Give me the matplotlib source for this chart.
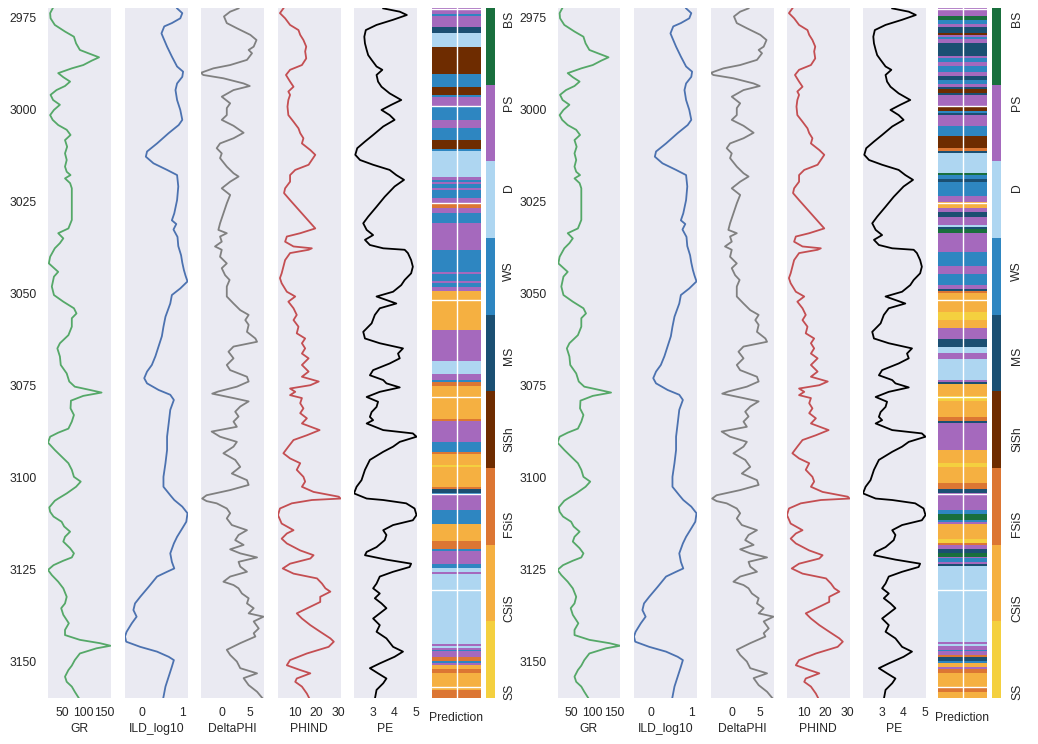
import numpy as np
import matplotlib
matplotlib.use('Agg')
import matplotlib.pyplot as plt
from matplotlib import colors

plt.rcParams.update({
    'font.family': 'sans-serif',
    'font.sans-serif': ['Liberation Sans', 'DejaVu Sans'],
    'font.size': 8.7,
    'axes.facecolor': '#EAEAF2',
    'axes.edgecolor': 'white',
    'axes.grid': True,
    'grid.color': 'white',
    'grid.linewidth': 1.0,
    'xtick.major.size': 0,
    'ytick.major.size': 0,
    'xtick.color': '.15',
    'ytick.color': '.15',
    'axes.labelcolor': '.15',
    'text.color': '.15',
})

facies_colors = ['#F4D03F', '#F5B041', '#DC7633', '#6E2C00', '#1B4F72',
                 '#2E86C1', '#AED6F1', '#A569BD', '#196F3D']
facies_labels = ['SS', 'CSiS', 'FSiS', 'SiSh', 'MS', 'WS', 'D', 'PS', 'BS']

ZTOP, ZBOT = 2972.3, 3159.8

gr_depth = [2972.4, 2973.7, 2975.1, 2976.9, 2978.7, 2980.1, 2981.9, 2983.7, 2984.6, 2985.7,
            2986.6, 2987.8, 2988.7, 2990.0, 2991.1, 2992.3, 2993.5, 2994.6, 2995.9, 2997.3,
            2998.6, 3000.0, 3001.4, 3002.7, 3004.1, 3005.4, 3006.8, 3008.2, 3010.0, 3011.8,
            3013.6, 3015.4, 3016.8, 3017.7, 3018.6, 3019.9, 3021.3, 3026.3, 3029.9, 3032.2,
            3033.5, 3034.9, 3036.2, 3037.6, 3039.9, 3041.7, 3044.0, 3045.3, 3048.0, 3050.3,
            3052.1, 3053.9, 3055.3, 3056.6, 3058.9, 3061.2, 3063.4, 3064.8, 3067.0, 3069.3,
            3071.6, 3073.8, 3075.2, 3076.1, 3076.8, 3077.7, 3079.0, 3081.1, 3082.9, 3084.7,
            3086.6, 3087.7, 3088.8, 3090.4, 3092.4, 3094.2, 3096.0, 3097.8, 3099.7, 3101.0,
            3102.4, 3104.2, 3105.6, 3106.2, 3108.0, 3109.2, 3110.5, 3111.9, 3113.2, 3114.6,
            3116.0, 3117.3, 3119.1, 3120.5, 3121.6, 3122.5, 3123.7, 3125.0, 3126.4, 3128.2,
            3130.0, 3132.3, 3134.1, 3135.4, 3137.2, 3139.5, 3141.3, 3142.7, 3144.0, 3144.9,
            3145.6, 3146.3, 3147.7, 3149.5, 3151.0, 3152.2, 3154.0, 3155.4, 3156.7, 3158.1,
            3160.1]
gr = [28, 22, 23, 33, 57, 78, 83, 92, 112, 137,
      120, 100, 73, 41, 53, 69, 57, 37, 23, 29,
      45, 31, 22, 28, 41, 61, 70, 57, 62, 57,
      61, 57, 61, 70, 57, 69, 73, 73, 73, 65,
      41, 53, 45, 33, 22, 19, 41, 31, 26, 31,
      53, 78, 84, 73, 73, 65, 45, 39, 45, 47,
      61, 67, 80, 116, 143, 100, 71, 70, 78, 73,
      65, 41, 22, 17, 33, 49, 65, 73, 78, 94,
      83, 61, 41, 33, 20, 22, 30, 49, 55, 69,
      57, 53, 69, 78, 73, 53, 30, 17, 26, 41,
      53, 61, 57, 48, 53, 66, 57, 57, 92, 139,
      164, 131, 92, 80, 73, 65, 57, 61, 73, 80,
      91]

ild_depth = [2972.4, 2973.7, 2975.1, 2976.4, 2977.3, 2979.2, 2980.5, 2982.8, 2985.5, 2988.2,
             2989.6, 2991.0, 2992.8, 2994.6, 2997.3, 3000.0, 3002.7, 3004.1, 3006.3, 3009.1,
             3011.3, 3012.7, 3014.5, 3016.3, 3017.7, 3020.8, 3024.5, 3028.1, 3030.0, 3031.0,
             3032.5, 3034.5, 3037.0, 3039.5, 3041.5, 3043.5, 3045.0, 3046.6, 3048.5, 3050.3,
             3052.6, 3056.2, 3058.9, 3061.5, 3064.2, 3066.9, 3069.3, 3071.1, 3072.9, 3074.3,
             3076.1, 3077.4, 3078.8, 3081.5, 3085.2, 3088.8, 3092.4, 3096.0, 3099.7, 3102.4,
             3104.7, 3106.0, 3107.8, 3109.6, 3111.9, 3113.7, 3116.0, 3117.8, 3120.5, 3122.8,
             3124.6, 3125.5, 3126.8, 3129.6, 3132.3, 3134.1, 3135.9, 3137.7, 3139.5, 3141.8,
             3143.1, 3144.5, 3145.9, 3147.2, 3148.6, 3149.5, 3151.3, 3154.0, 3156.7, 3160.1]
ild = [0.87, 1.00, 0.95, 0.74, 0.55, 0.48, 0.53, 0.62, 0.74, 0.87,
       1.02, 1.00, 0.87, 0.83, 0.87, 0.95, 1.00, 0.91, 0.66, 0.37,
       0.12, 0.09, 0.28, 0.62, 0.87, 0.90, 0.87, 0.80, 0.74, 0.85,
       0.78, 0.88, 0.90, 0.97, 1.00, 1.04, 1.08, 1.13, 0.95, 0.74,
       0.70, 0.58, 0.53, 0.49, 0.41, 0.33, 0.24, 0.12, 0.05, 0.12,
       0.41, 0.70, 0.79, 0.70, 0.66, 0.62, 0.62, 0.58, 0.53, 0.53,
       0.70, 0.80, 1.00, 1.13, 1.10, 1.00, 0.87, 0.79, 0.70, 0.74,
       0.80, 0.62, 0.37, 0.16, -0.05, -0.18, -0.22, -0.14, -0.26, -0.39,
       -0.43, -0.40, -0.05, 0.37, 0.66, 0.79, 0.74, 0.66, 0.58, 0.52]

dphi_depth = [2972.4, 2973.3, 2974.6, 2976.4, 2977.8, 2979.6, 2981.0, 2982.8, 2983.7, 2984.6,
              2986.4, 2987.8, 2988.7, 2989.9, 2990.5, 2991.4, 2992.8, 2993.5, 2994.6, 2996.4,
              2998.2, 2999.5, 3001.4, 3002.7, 3004.3, 3006.2, 3007.7, 3009.1, 3010.4, 3011.8,
              3013.1, 3015.4, 3017.2, 3018.1, 3019.5, 3021.3, 3023.1, 3025.4, 3028.1, 3030.8,
              3032.6, 3033.5, 3034.4, 3035.8, 3037.1, 3038.0, 3039.9, 3041.7, 3043.0, 3044.9,
              3046.2, 3048.0, 3050.7, 3052.6, 3054.4, 3055.7, 3057.1, 3058.4, 3060.3, 3062.1,
              3063.0, 3064.3, 3065.7, 3067.5, 3069.3, 3070.7, 3072.5, 3073.8, 3075.2, 3076.5,
              3077.1, 3078.3, 3079.2, 3080.6, 3082.0, 3083.3, 3084.7, 3086.1, 3087.4, 3088.8,
              3090.2, 3091.5, 3093.3, 3095.1, 3097.0, 3098.8, 3100.6, 3101.9, 3103.3, 3104.7,
              3105.6, 3106.3, 3106.9, 3108.3, 3109.6, 3111.0, 3112.8, 3114.2, 3115.5, 3116.9,
              3118.2, 3119.4, 3120.5, 3121.6, 3122.8, 3124.1, 3125.5, 3126.8, 3128.2, 3129.1,
              3130.0, 3131.4, 3132.7, 3134.1, 3135.4, 3136.8, 3137.7, 3139.0, 3140.9, 3142.2,
              3143.1, 3144.9, 3146.7, 3148.1, 3149.9, 3151.7, 3153.1, 3154.4, 3156.3, 3158.1,
              3160.1]
dphi = [2.9, 1.4, 0.3, 0.8, 2.6, 5.0, 6.1, 5.6, 4.7, 5.3,
        4.4, 1.4, -1.6, -3.8, -3.4, 0.2, 3.8, 4.9, 2.0, -0.1,
        1.4, 0.8, 0.8, -0.1, 2.0, 3.8, 2.0, -0.4, -1.0, -0.1,
        -0.4, 0.8, 2.0, 2.9, 1.4, -0.1, 1.4, 0.8, 0.2, -0.4,
        -0.7, 0.8, -0.4, -0.1, -1.3, -0.1, -0.4, 0.8, -0.1, 0.5,
        1.3, 0.8, 0.8, 2.0, 3.2, 4.7, 4.1, 4.7, 4.4, 5.9,
        6.2, 2.0, 1.1, 2.0, 0.8, 1.4, 4.4, 4.7, 2.6, -0.7,
        -1.8, 2.0, 4.7, 3.2, 2.3, 2.9, 2.0, 2.6, -1.9, -0.4,
        2.6, 2.0, 0.2, 2.3, 3.2, 1.7, 4.4, 4.7, 1.4, -2.8,
        -3.6, -2.8, -1.0, 0.8, 1.4, 0.8, 1.7, 4.4, 2.9, 2.3,
        3.8, 1.4, 3.2, 6.2, 2.9, 3.2, 4.4, 1.4, 0.2, 2.0,
        2.9, 3.5, 4.7, 4.4, 5.6, 4.7, 7.35, 5.6, 6.5, 5.6,
        5.9, 3.2, 0.8, 1.4, 2.6, 3.2, 6.2, 3.8, 4.7, 6.2,
        7.3]

phind_depth = [2972.4, 2973.7, 2975.1, 2976.9, 2978.3, 2979.6, 2981.0, 2982.8, 2984.1, 2986.0,
               2987.8, 2989.1, 2990.5, 2992.3, 2993.7, 2995.0, 2995.9, 2997.3, 2999.1, 3001.4,
               3003.2, 3005.0, 3006.3, 3007.7, 3009.1, 3010.9, 3012.2, 3013.6, 3014.9, 3016.3,
               3017.7, 3019.5, 3021.3, 3022.6, 3024.5, 3028.1, 3032.2, 3033.5, 3034.4, 3035.8,
               3037.1, 3037.6, 3038.0, 3038.9, 3040.8, 3042.6, 3044.4, 3045.7, 3047.1, 3049.4,
               3050.7, 3052.1, 3053.9, 3055.7, 3057.1, 3058.9, 3060.7, 3062.1, 3063.4, 3064.8,
               3066.2, 3067.5, 3069.3, 3071.1, 3072.5, 3073.8, 3074.8, 3075.7, 3076.6, 3077.5,
               3078.3, 3079.7, 3081.1, 3082.4, 3083.8, 3085.2, 3087.0, 3088.4, 3089.7, 3091.5,
               3093.3, 3094.7, 3096.0, 3097.8, 3099.7, 3101.0, 3102.4, 3103.8, 3105.1, 3105.6,
               3106.0, 3106.9, 3108.3, 3110.1, 3112.4, 3114.2, 3115.1, 3116.5, 3117.8, 3119.7,
               3121.0, 3121.9, 3123.3, 3124.6, 3126.0, 3127.3, 3128.7, 3130.0, 3130.9, 3132.3,
               3133.7, 3135.0, 3136.8, 3138.2, 3140.0, 3141.8, 3143.6, 3144.5, 3145.9, 3147.7,
               3149.5, 3150.9, 3152.2, 3153.1, 3154.5, 3155.4, 3156.7, 3158.6, 3160.1]
phind = [4.7, 3.1, 5.5, 7.8, 11.7, 12.5, 14.0, 15.3, 14.8, 15.3,
         13.3, 7.8, 5.9, 7.8, 9.4, 7.0, 7.8, 7.0, 6.6, 7.0,
         9.4, 11.7, 12.5, 14.0, 13.3, 17.2, 19.5, 17.9, 16.4, 10.2,
         7.8, 7.8, 5.5, 5.0, 7.8, 13.3, 19.5, 12.5, 6.3, 5.5,
         9.4, 17.9, 16.4, 7.8, 5.5, 4.7, 3.9, 3.1, 3.9, 6.3,
         10.2, 7.0, 9.4, 10.9, 9.4, 11.7, 10.9, 14.8, 13.3, 14.8,
         13.3, 16.4, 13.3, 16.4, 13.3, 21.1, 17.2, 7.8, 10.2, 7.8,
         13.3, 12.5, 14.0, 12.5, 15.6, 13.3, 21.5, 15.6, 9.4, 7.0,
         4.7, 7.8, 12.5, 10.9, 14.0, 14.8, 13.3, 18.7, 30.4, 31.2,
         17.9, 8.6, 3.1, 2.2, 3.9, 9.4, 6.3, 3.9, 6.3, 12.5,
         18.7, 17.2, 7.8, 4.4, 9.4, 20.3, 22.6, 24.2, 26.5, 21.8,
         21.8, 17.2, 10.9, 13.3, 17.2, 21.8, 26.5, 28.1, 25.7, 15.6,
         7.8, 6.3, 12.5, 17.2, 10.9, 10.2, 13.3, 15.6, 16.9]

pe_depth = [2972.4, 2973.3, 2974.2, 2975.5, 2976.9, 2978.3, 2980.1, 2981.9, 2983.7, 2985.1,
            2986.4, 2988.2, 2989.1, 2990.5, 2992.3, 2993.7, 2995.5, 2997.3, 2998.6, 3000.0,
            3001.4, 3002.7, 3004.5, 3006.8, 3008.6, 3010.4, 3012.2, 3013.6, 3014.9, 3016.3,
            3017.7, 3019.0, 3020.8, 3023.6, 3026.3, 3029.0, 3030.8, 3032.6, 3034.0, 3035.3,
            3036.7, 3037.6, 3038.0, 3038.9, 3040.8, 3042.6, 3044.4, 3046.2, 3047.6, 3049.4,
            3050.7, 3052.6, 3053.9, 3055.7, 3058.0, 3060.3, 3062.1, 3063.4, 3064.8, 3066.2,
            3067.5, 3068.9, 3070.7, 3072.1, 3073.4, 3074.3, 3075.4, 3076.6, 3078.0, 3079.3,
            3080.7, 3082.1, 3083.4, 3084.3, 3085.2, 3087.0, 3087.9, 3088.8, 3090.2, 3091.5,
            3092.9, 3095.1, 3097.8, 3100.6, 3102.4, 3104.2, 3105.6, 3106.0, 3106.9, 3108.3,
            3110.1, 3111.5, 3112.8, 3114.2, 3115.5, 3116.9, 3118.8, 3120.1, 3121.0, 3122.2,
            3123.3, 3124.2, 3125.5, 3126.8, 3128.7, 3130.0, 3131.4, 3132.7, 3134.1, 3135.4,
            3136.8, 3138.2, 3140.0, 3141.8, 3143.6, 3145.9, 3147.2, 3148.6, 3150.4, 3151.7,
            3153.1, 3154.5, 3155.8, 3157.6, 3160.1]
pe = [3.50, 4.27, 4.60, 3.96, 3.19, 2.69, 2.62, 2.65, 2.73, 2.80,
      2.96, 3.19, 3.46, 3.19, 3.26, 3.42, 3.80, 4.34, 3.88, 3.42,
      3.80, 4.03, 3.50, 3.03, 2.65, 2.29, 2.20, 2.42, 3.03, 3.80,
      4.11, 4.47, 4.03, 3.57, 3.19, 2.80, 2.57, 2.73, 3.03, 2.65,
      2.88, 3.50, 4.50, 4.65, 4.80, 4.88, 4.80, 4.50, 4.34, 3.96,
      3.19, 4.11, 3.34, 3.11, 2.96, 2.57, 2.65, 3.34, 4.42, 4.19,
      4.27, 3.80, 3.03, 2.88, 3.50, 3.65, 4.27, 3.34, 2.73, 3.26,
      3.19, 2.96, 2.88, 3.03, 2.73, 3.50, 4.88, 5.05, 4.27, 3.96,
      3.50, 2.88, 2.65, 2.49, 2.26, 2.14, 2.73, 3.50, 4.57, 4.96,
      5.05, 4.88, 3.96, 3.50, 3.65, 3.57, 3.19, 2.73, 2.65, 3.65,
      4.80, 4.73, 3.96, 3.34, 3.19, 3.03, 3.34, 3.11, 3.42, 3.65,
      3.34, 3.03, 3.34, 3.19, 3.65, 3.96, 4.42, 4.03, 3.34, 2.88,
      3.26, 3.65, 3.50, 3.19, 3.11]

# predicted facies, as interval tops (depth) and facies codes 1..9
pred_left_tops = [2972.3, 2973.7, 2974.2, 2977.5, 2979.2, 2982.8, 2990.0, 2993.8, 2995.9, 2996.6,
                  2999.0, 3002.7, 3005.0, 3008.2, 3010.7, 3011.3, 3018.1, 3019.0, 3019.7, 3020.4,
                  3021.3, 3021.9, 3024.0, 3025.6, 3026.7, 3028.1, 3030.8, 3038.0, 3043.9, 3044.6,
                  3046.6, 3047.3, 3048.2, 3049.4, 3059.8, 3068.4, 3072.0, 3073.2, 3074.1, 3075.2,
                  3083.8, 3084.4, 3090.4, 3092.8, 3093.4, 3096.4, 3097.3, 3102.5, 3103.0, 3103.9,
                  3104.6, 3108.5, 3112.5, 3117.3, 3119.1, 3120.0, 3123.6, 3124.3, 3125.6, 3126.2,
                  3144.9, 3145.4, 3146.0, 3146.6, 3147.2, 3149.0, 3149.7, 3150.3, 3151.0, 3151.7,
                  3153.2, 3157.6, 3158.5, 3159.0]
pred_left = [8, 6, 8, 5, 7, 4, 6, 4, 6, 8,
             6, 8, 6, 4, 6, 7, 8, 6, 8, 6,
             8, 6, 8, 3, 8, 6, 8, 6, 8, 6,
             8, 6, 8, 2, 8, 7, 8, 6, 3, 2,
             3, 8, 6, 3, 2, 1, 2, 3, 5, 6,
             8, 6, 2, 3, 6, 8, 6, 7, 8, 7,
             8, 7, 8, 6, 8, 3, 6, 8, 2, 3,
             2, 3, 2, 3]

pred_right_tops = [2972.3, 2974.6, 2975.2, 2976.4, 2977.8, 2979.2, 2979.6, 2980.3, 2980.8, 2981.7,
                   2985.3, 2986.0, 2986.9, 2987.3, 2988.2, 2989.6, 2990.5, 2991.7, 2992.8, 2993.8,
                   2994.6, 2995.3, 2995.9, 2999.3, 3000.0, 3000.6, 3001.4, 3004.5, 3007.2, 3010.0,
                   3011.1, 3011.8, 3017.2, 3017.8, 3018.8, 3019.5, 3023.6, 3025.1, 3026.3, 3027.6,
                   3029.4, 3031.3, 3031.9, 3032.4, 3033.2, 3038.9, 3042.1, 3044.5, 3047.6, 3048.5,
                   3049.4, 3049.9, 3054.8, 3057.1, 3059.1, 3062.1, 3064.3, 3066.0, 3067.5, 3073.4,
                   3073.8, 3074.5, 3077.9, 3079.3, 3083.3, 3084.3, 3085.0, 3092.4, 3096.0, 3096.9,
                   3101.4, 3103.1, 3104.0, 3108.5, 3110.0, 3111.2, 3111.8, 3112.5, 3116.8, 3117.5,
                   3118.2, 3119.1, 3119.5, 3120.4, 3121.2, 3122.1, 3122.7, 3123.3, 3123.9, 3144.5,
                   3145.1, 3145.8, 3146.7, 3147.4, 3148.3, 3148.9, 3149.6, 3150.3, 3151.2, 3152.1,
                   3153.0, 3157.1, 3158.3]
pred_right = [8, 9, 6, 8, 5, 4, 8, 6, 8, 5,
              8, 6, 4, 8, 6, 8, 5, 6, 8, 5,
              4, 5, 8, 4, 6, 5, 8, 6, 4, 3,
              5, 7, 9, 6, 5, 6, 8, 2, 8, 5,
              8, 7, 5, 9, 8, 6, 8, 6, 8, 5,
              3, 2, 1, 2, 8, 5, 7, 8, 7, 8,
              5, 2, 1, 2, 3, 5, 8, 2, 1, 2,
              3, 5, 8, 6, 9, 6, 8, 2, 1, 3,
              8, 6, 5, 9, 8, 6, 8, 5, 7, 8,
              7, 8, 6, 8, 3, 5, 6, 2, 8, 3,
              2, 3, 2]

logs = [
    (gr_depth, gr, '#55A868', 'GR', [50, 100, 150]),
    (ild_depth, ild, '#4C72B0', 'ILD_log10', [0, 1]),
    (dphi_depth, dphi, '0.5', 'DeltaPHI', [0, 5]),
    (phind_depth, phind, '#C44E52', 'PHIND', [10, 20, 30]),
    (pe_depth, pe, 'black', 'PE', [3, 4, 5]),
]

W, H = 1038, 744
AX_TOP, AX_BOT = 8, 698
cmap_facies = colors.ListedColormap(facies_colors, 'indexed')


def px_rect(x, w):
    return [x / W, 1 - AX_BOT / H, w / W, (AX_BOT - AX_TOP) / H]


def facies_column(tops, codes, nrows=356):
    z = ZTOP + (np.arange(nrows) + 0.5) * (ZBOT - ZTOP) / nrows
    idx = np.searchsorted(tops, z, side='right') - 1
    col = np.array(codes)[np.clip(idx, 0, None)]
    return np.repeat(col[:, None], 100, axis=1)


def draw_panel(fig, curve_x, pred_x, cbar_x, label_x, tops, codes):
    for i, (depth, vals, color, name, ticks) in enumerate(logs):
        ax = fig.add_axes(px_rect(curve_x[i], 62.5))
        ax.plot(vals, depth, color=color, lw=1.3)
        ax.set_xlim(min(vals), max(vals))
        ax.set_ylim(ZBOT, ZTOP)
        ax.set_xticks(ticks)
        ax.grid(False)
        ax.tick_params(axis='x', pad=6.5)
        ax.tick_params(axis='y', pad=7.9)
        ax.set_xlabel(name)
        ax.xaxis.set_label_coords(0.5, -(723 - AX_BOT) / (AX_BOT - AX_TOP))
        ax.xaxis.label.set_va('top')
        if i == 0:
            ax.set_yticks([2975, 3000, 3025, 3050, 3075, 3100, 3125, 3150])
        else:
            ax.set_yticklabels([])
        for s in ax.spines.values():
            s.set_visible(False)

    ax = fig.add_axes(px_rect(pred_x, 49))
    im = ax.imshow(facies_column(tops, codes), interpolation='none', aspect='auto',
                   cmap=cmap_facies, vmin=1, vmax=9)
    ax.set_xticks([49.5])
    ax.set_xticklabels([])
    ax.set_yticks(np.arange(0, 351, 50))
    ax.set_yticklabels([])
    ax.grid(True, color='white', lw=1.0)
    for s in ax.spines.values():
        s.set_visible(False)
    ax.set_xlabel('Prediction')
    ax.xaxis.set_label_coords(0.5, -(712 - AX_BOT) / (AX_BOT - AX_TOP))
    ax.xaxis.label.set_va('top')

    cax = fig.add_axes(px_rect(cbar_x, 8.5))
    cbar = fig.colorbar(im, cax=cax, ticks=[])
    cbar.outline.set_visible(False)

    label_y = np.linspace(692, 19, len(facies_labels))
    for lab, y in zip(facies_labels, label_y):
        fig.text(label_x / W, 1 - y / H, lab, rotation=90, ha='center', va='center')


fig = plt.figure(figsize=(W / 100, H / 100), dpi=100)
draw_panel(fig, [48, 125, 201, 278, 354], 432, 486, 509, pred_left_tops, pred_left)
draw_panel(fig, [557.5, 634, 711, 787, 863], 938, 992, 1017, pred_right_tops, pred_right)
fig.savefig('out.png', dpi=100)
